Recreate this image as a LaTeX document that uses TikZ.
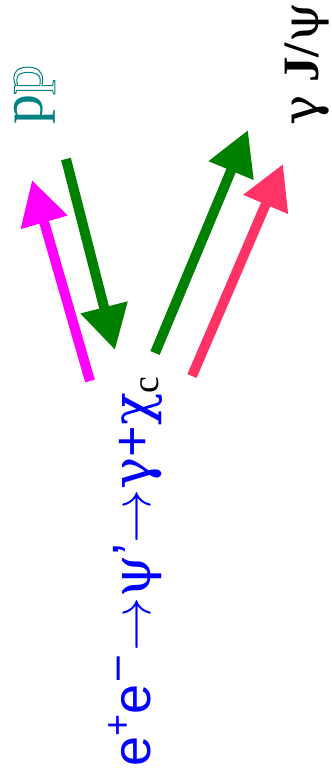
\RequirePackage{fix-cm}
\documentclass[tikz,border=0pt]{standalone}
\usepackage{fontspec}
\setmainfont{Liberation Serif}
\newfontfamily\sansfam{Liberation Sans}
\newfontfamily\greekfam{DejaVu Serif}
\usetikzlibrary{arrows.meta}
\definecolor{chpink}{RGB}{255,0,255}
\definecolor{chgreen}{RGB}{0,128,0}
\definecolor{chred}{RGB}{255,51,102}
\definecolor{chteal}{RGB}{0,128,128}
\definecolor{chblue}{RGB}{0,0,255}
% hollow letter for the antiparticle
\newcommand{\hollow}[1]{\special{pdf:literal direct 1 Tr 1 w}#1\special{pdf:literal direct 0 Tr}}

\begin{document}
\begin{tikzpicture}[x=1pt,y=-1pt,
    fat/.style={line width=10pt,-{Triangle[length=44pt,width=46pt]}},
    lab/.style={rotate=90,anchor=base west,inner sep=0pt}]
  \useasboundingbox (0,0) rectangle (332,782);

  % Labels (rotated)
  \node[lab,text=chblue,font=\fontsize{54}{60}\selectfont] (chain) at (150,767)
        {\sansfam e\textsuperscript{+}e\textsuperscript{\greekfam −}$\rightarrow${\greekfam ψ}’$\rightarrow${\greekfam γ}+{\greekfam χ}\textsubscript{\textcolor{black}{\rmfamily c}}};
  \node[lab,text=chteal,font=\fontsize{60}{66}\selectfont] (ppbar) at (42,125) {p\hollow{p}};
  \node[lab,text=black,font=\fontsize{51}{57}\selectfont] (gjpsi) at (318,126) {{\greekfam γ} \textbf{J/}{\greekfam ψ}};

  % Arrow ends
  \coordinate (pinkA) at (90,381);   \coordinate (pinkB) at (32,180);
  \coordinate (dgreenA) at (66,159); \coordinate (dgreenB) at (115,350);
  \coordinate (ugreenA) at (155,353);\coordinate (ugreenB) at (248,130);
  \coordinate (redA) at (192,376);   \coordinate (redB) at (283,164);

  % Fat arrows
  \draw[fat,chpink] (pinkA) -- (pinkB);
  \draw[fat,chgreen] (dgreenA) -- (dgreenB);
  \draw[fat,chgreen] (ugreenA) -- (ugreenB);
  \draw[fat,chred] (redA) -- (redB);
\end{tikzpicture}
\end{document}
